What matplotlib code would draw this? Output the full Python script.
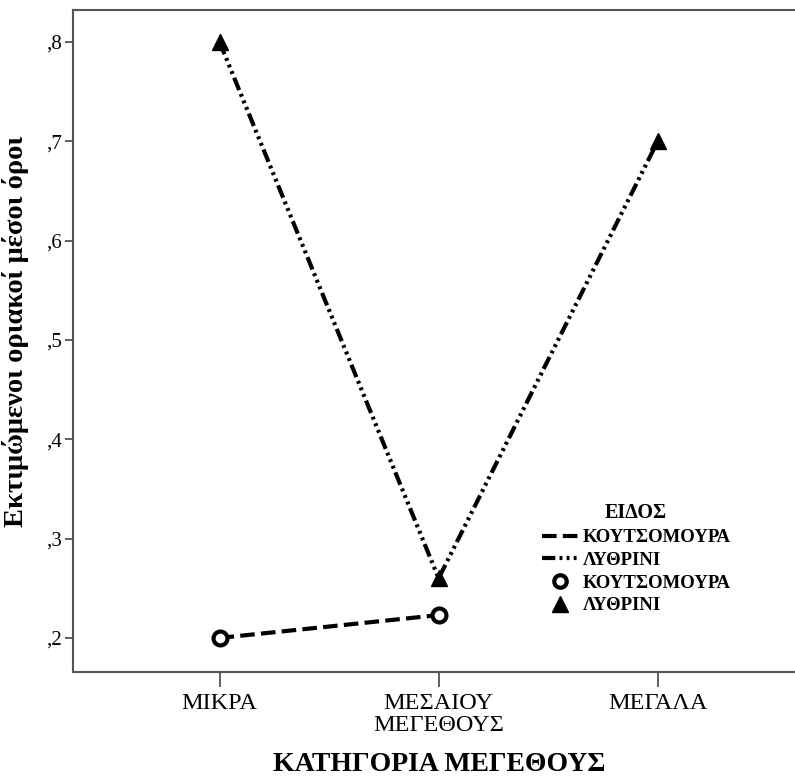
import matplotlib.pyplot as plt
from matplotlib.lines import Line2D
from matplotlib.ticker import FuncFormatter

plt.rcParams['font.family'] = ['Liberation Serif', 'DejaVu Serif']

categories = ['ΜΙΚΡΑ', 'ΜΕΣΑΙΟΥ\nΜΕΓΕΘΟΥΣ', 'ΜΕΓΑΛΑ']
koutsomoura = [0.200, 0.223]  # no value for ΜΕΓΑΛΑ
lythrini = [0.800, 0.260, 0.700]
yticks = [0.2, 0.3, 0.4, 0.5, 0.6, 0.7, 0.8]

dash_dots = (3.2, 1.0, 0.7, 1.0, 0.7, 1.0, 0.7, 1.0)

fig = plt.figure(figsize=(7.95, 7.76), dpi=100)
ax = fig.add_axes([0.092, 0.134, 0.92, 0.853])

x = list(range(len(categories)))
ax.plot(x[:len(koutsomoura)], koutsomoura, color='black', lw=3, ls=(0, (3.5, 1.5)))
ax.plot(x, lythrini, color='black', lw=3, ls=(0, dash_dots))
ax.plot(x[:len(koutsomoura)], koutsomoura, ls='none', marker='o', ms=10,
        mfc='white', mec='black', mew=3)
ax.plot(x, lythrini, ls='none', marker='^', ms=12, color='black')

ax.set_xlim(-0.668, 2.67)
ax.set_ylim(0.1657, 0.832)
ax.set_xticks(x)
ax.set_xticklabels(categories, fontsize=17.5, linespacing=1.05)
ax.set_yticks(yticks)
ax.yaxis.set_major_formatter(FuncFormatter(lambda v, p: ('%.1f' % v).lstrip('0').replace('.', ',')))
ax.tick_params(axis='y', labelsize=15, length=6, width=1.2, color='#444444', pad=2)
ax.tick_params(axis='x', length=11, width=1.2, color='#444444', pad=4)
for s in ax.spines.values():
    s.set_color('#555555')
    s.set_linewidth(1.5)

ax.set_xlabel('ΚΑΤΗΓΟΡΙΑ ΜΕΓΕΘΟΥΣ', fontsize=20, fontweight='bold', labelpad=12)
ax.set_ylabel('Εκτιμώμενοι οριακοί μέσοι όροι', fontsize=20.5, fontweight='bold')
ax.yaxis.set_label_coords(-0.06, 0.514)

handles = [
    Line2D([], [], color='black', lw=3, ls=(0, (3.5, 1.5))),
    Line2D([], [], color='black', lw=3, ls=(0, dash_dots)),
    Line2D([], [], ls='none', marker='o', ms=9, mfc='white', mec='black', mew=3),
    Line2D([], [], ls='none', marker='^', ms=11, color='black'),
]
labels = ['ΚΟΥΤΣΟΜΟΥΡΑ', 'ΛΥΘΡΙΝΙ', 'ΚΟΥΤΣΟΜΟΥΡΑ', 'ΛΥΘΡΙΝΙ']
leg = fig.legend(handles, labels, title='ΕΙΔΟΣ', frameon=False,
                 loc='upper left', bbox_to_anchor=(0.66, 0.373),
                 prop={'weight': 'bold', 'size': 13.5},
                 handlelength=2.0, handletextpad=0.2, labelspacing=0.3)
leg.get_title().set_fontsize(14.5)
leg.get_title().set_fontweight('bold')

fig.savefig('out.png', dpi=100)
